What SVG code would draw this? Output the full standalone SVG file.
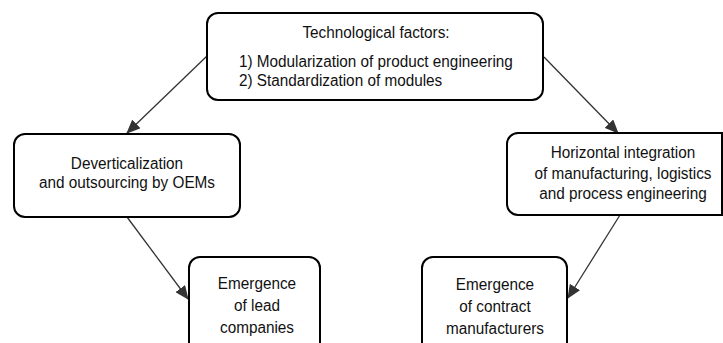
<svg xmlns="http://www.w3.org/2000/svg" width="723" height="343" viewBox="0 0 723 343">
  <style>
    .box { fill: #ffffff; stroke: #000000; stroke-width: 2; }
    .lbl { font-family: "Liberation Sans", Arial, sans-serif; font-size: 16.2px; fill: #111111; }
    .mid { text-anchor: middle; }
    .edge { fill: none; stroke: #333333; stroke-width: 1.3; marker-end: url(#arrow); }
  </style>
  <defs>
    <marker id="arrow" markerUnits="userSpaceOnUse" markerWidth="14" markerHeight="12" refX="13" refY="6" orient="auto">
      <path d="M0,0 L14,6 L0,12 Z" fill="#333333"/>
    </marker>
  </defs>

  <!-- connectors -->
  <g id="connectors">
    <line class="edge" x1="207" y1="56" x2="127" y2="133"/>
    <line class="edge" x1="544" y1="57" x2="618" y2="133"/>
    <line class="edge" x1="127" y1="217" x2="188" y2="299"/>
    <line class="edge" x1="620" y1="215" x2="568" y2="298"/>
  </g>

  <!-- labels use a slightly condensed face: each text group is squeezed
       horizontally (x0.945) about its own centre line -->

  <!-- technological factors -->
  <g id="tech">
    <rect class="box" x="207" y="13" width="336" height="87" rx="11"/>
    <g transform="matrix(0.945,0,0,1,20.68,0)">
      <text class="lbl mid" x="376" y="38">Technological factors:</text>
      <text class="lbl" x="231" y="67">1) Modularization of product engineering</text>
      <text class="lbl" x="231" y="86">2) Standardization of modules</text>
    </g>
  </g>

  <!-- deverticalization -->
  <g id="devert">
    <rect class="box" x="14" y="134" width="226" height="83" rx="11"/>
    <g transform="matrix(0.945,0,0,1,6.985,0)">
      <text class="lbl mid" x="127" y="169">Deverticalization</text>
      <text class="lbl mid" x="127" y="188">and outsourcing by OEMs</text>
    </g>
  </g>

  <!-- horizontal integration (runs off the right edge) -->
  <g id="horiz">
    <path class="box" d="M722,133 H518 A11,11 0 0 0 507,144 V204 A11,11 0 0 0 518,215 H722 Z"/>
    <g transform="matrix(0.945,0,0,1,34.265,0)">
      <text class="lbl mid" x="623" y="158">Horizontal integration</text>
      <text class="lbl mid" x="623" y="179">of manufacturing, logistics</text>
      <text class="lbl mid" x="623" y="199">and process engineering</text>
    </g>
  </g>

  <!-- lead companies -->
  <g id="lead">
    <rect class="box" x="189" y="257" width="131" height="100" rx="11"/>
    <g transform="matrix(0.945,0,0,1,14.135,0)">
      <text class="lbl mid" x="257" y="289">Emergence</text>
      <text class="lbl mid" x="257" y="311">of lead</text>
      <text class="lbl mid" x="257" y="333">companies</text>
    </g>
  </g>

  <!-- contract manufacturers -->
  <g id="contract">
    <rect class="box" x="422" y="257" width="145" height="100" rx="11"/>
    <g transform="matrix(0.945,0,0,1,27.225,0)">
      <text class="lbl mid" x="495" y="290">Emergence</text>
      <text class="lbl mid" x="495" y="312">of contract</text>
      <text class="lbl mid" x="495" y="334">manufacturers</text>
    </g>
  </g>
</svg>
